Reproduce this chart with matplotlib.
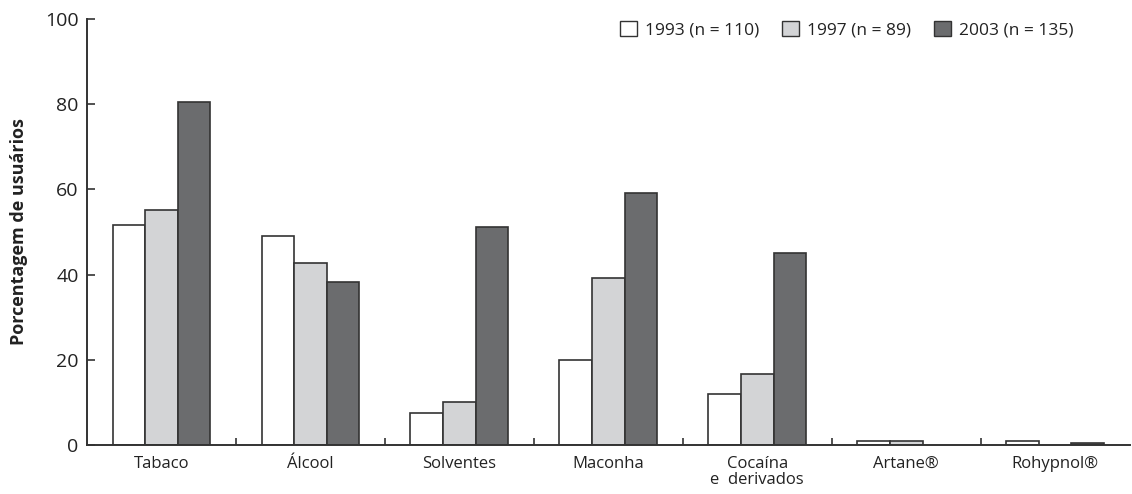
import numpy as np
import matplotlib
matplotlib.use("Agg")
import matplotlib.pyplot as plt
from matplotlib.patches import Patch

categories = ["Tabaco", "Álcool", "Solventes", "Maconha", "Cocaína\ne  derivados",
              "Artane®", "Rohypnol®"]
series_labels = ["1993 (n = 110)", "1997 (n = 89)", "2003 (n = 135)"]
v1993 = [51.6, 49.1, 7.5, 20.0, 12.0, 0.9, 0.9]
v1997 = [55.2, 42.7, 10.1, 39.2, 16.7, 0.9, 0.0]
v2003 = [80.5, 38.3, 51.2, 59.2, 45.1, 0.0, 0.5]
colors = ["#ffffff", "#d3d4d6", "#6b6c6e"]

plt.rcParams['font.family'] = ['Open Sans', 'DejaVu Sans']
edge = "#333333"
txt = "#222222"

fig = plt.figure(figsize=(11.32, 4.94), dpi=100)
ax = fig.add_axes([0.0769, 0.0992, 0.921, 0.8623])

x = np.arange(len(categories))
w = 0.219
for i, vals in enumerate([v1993, v1997, v2003]):
    for xi, v in zip(x + (i - 1) * w, vals):
        if v > 0:
            ax.bar(xi, v, width=w, color=colors[i], edgecolor=edge, linewidth=1.2, zorder=2)

ax.set_xlim(-0.5, len(categories) - 0.5)
ax.set_ylim(0, 100)
ax.set_yticks([0, 20, 40, 60, 80, 100])
ax.set_xticks(x)
ax.set_xticklabels(categories, fontsize=12, color=txt, linespacing=1.0)
ax.set_xticks(np.arange(0.5, len(categories) - 0.5, 1), minor=True)
ax.tick_params(axis='x', which='major', length=0, pad=8)
ax.tick_params(axis='x', which='minor', direction='in', length=5, width=1.2, color=edge)
ax.tick_params(axis='y', direction='in', length=6, width=1.2, color=edge, labelsize=14,
               labelcolor=txt, pad=6)

for s in ["top", "right"]:
    ax.spines[s].set_visible(False)
for s in ["left", "bottom"]:
    ax.spines[s].set_color(edge)
    ax.spines[s].set_linewidth(1.4)

ax.set_ylabel("Porcentagem de usuários", fontsize=13, fontweight='bold', color=txt, labelpad=12)

handles = [Patch(facecolor=c, edgecolor=edge, linewidth=1.0) for c in colors]
fig.legend(handles, series_labels, loc='upper right', bbox_to_anchor=(0.962, 0.99), ncol=3,
           frameon=False, fontsize=12.5, handlelength=1.0, handleheight=1.0, handletextpad=0.45,
           columnspacing=1.3, labelcolor=txt)

fig.savefig("out.png", dpi=100)
